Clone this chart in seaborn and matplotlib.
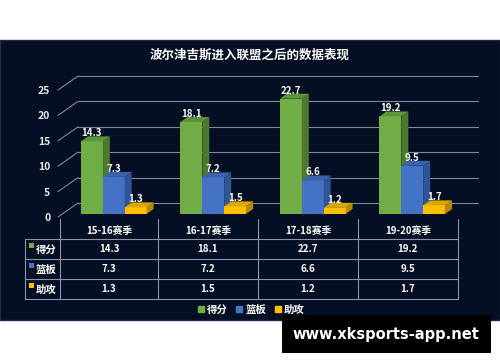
# 波尔津吉斯进入联盟之后的数据表现 - 3D style bar chart with data table underneath

import matplotlib.pyplot as plt
import matplotlib.transforms as mtrans
from matplotlib.patches import Rectangle, Polygon
from matplotlib.lines import Line2D
import pandas as pd
import seaborn as sns

seasons = ['15-16赛季', '16-17赛季', '17-18赛季', '19-20赛季']
stats = ['得分', '篮板', '助攻']
points = [14.3, 18.1, 22.7, 19.2]
rebounds = [7.3, 7.2, 6.6, 9.5]
assists = [1.3, 1.5, 1.2, 1.7]
yticks = [0, 5, 10, 15, 20, 25]

front_colors = ['#70ad47', '#4472c4', '#ffc000']
side_colors = ['#4b7a2e', '#2f5597', '#b88a00']
top_colors = ['#5e9439', '#3a63ad', '#dba500']

df = pd.DataFrame({
    'season': seasons * 3,
    'stat': [s for s in stats for _ in seasons],
    'value': points + rebounds + assists,
})

sns.set_style('dark')
plt.rcParams['font.family'] = ['Noto Sans CJK SC', 'DejaVu Sans']

W, H = 500, 362
fig = plt.figure(figsize=(5, 3.62), dpi=100, facecolor='white')

def fx(x):
    return x / W

def fy(y):
    return 1 - y / H

# dark panel
fig.add_artist(Rectangle((0, fy(320)), 1, (320 - 40) / H, transform=fig.transFigure,
                         facecolor='#050f24', edgecolor='#1c2b4a', lw=1, zorder=0))

ax = fig.add_axes([fx(60), fy(217), fx(458) - fx(60), (217 - 90) / H])
ax.set_facecolor('none')
sns.barplot(data=df, x='season', y='value', hue='stat', palette=front_colors,
            width=0.66, gap=0, legend=False, ax=ax, saturation=1)
ax.set_xlim(-0.5, 3.5)
ax.set_ylim(0, 25)
ax.set_yticks(yticks)
ax.set_xticks([])
ax.set_xlabel('')
ax.set_ylabel('')
ax.grid(False)
for s in ax.spines.values():
    s.set_visible(False)
ax.tick_params(axis='y', length=0, pad=7, labelsize=7.5, labelcolor='#e6e6e6')
for lab in ax.get_yticklabels():
    lab.set_fontweight('bold')

ident = mtrans.IdentityTransform()
px = 1 / 100  # inches per pixel

# back wall gridlines and floor diagonals (pixel offsets)
wall_dx, wall_dy = 20, 14
x_front = ax.transData.transform((-0.5, 0))[0] - 2
x_end = 478
for v in yticks:
    yd = ax.transData.transform((0, v))[1]
    ax.add_line(Line2D([x_front, x_front + wall_dx], [yd, yd + wall_dy], transform=ident,
                       color='#7d8898', lw=0.8, zorder=1, clip_on=False))
    ax.add_line(Line2D([x_front + wall_dx, x_end], [yd + wall_dy, yd + wall_dy], transform=ident,
                       color='#7d8898', lw=0.8, zorder=1, clip_on=False))

# bars: shift fronts a little back (right and up), then add side and top faces
bar_dx, bar_dy = 4, 3
dep_dx, dep_dy = 7, 5
shift = mtrans.ScaledTranslation(bar_dx * px, bar_dy * px, fig.dpi_scale_trans)
for k, cont in enumerate(ax.containers):
    for bar in cont:
        x0, w, h = bar.get_x(), bar.get_width(), bar.get_height()
        bar.set_transform(ax.transData + shift)
        bar.set_zorder(2 + k)
        bar.set_edgecolor('none')
        (lx, by), (rx, ty) = ax.transData.transform([(x0, 0), (x0 + w, h)])
        lx, rx = lx + bar_dx, rx + bar_dx
        by, ty = by + bar_dy, ty + bar_dy
        side = Polygon([(rx, by), (rx + dep_dx, by + dep_dy), (rx + dep_dx, ty + dep_dy), (rx, ty)],
                       closed=True, transform=ident, facecolor=side_colors[k], edgecolor='none',
                       zorder=2 + k, clip_on=False)
        top = Polygon([(lx, ty), (rx, ty), (rx + dep_dx, ty + dep_dy), (lx + dep_dx, ty + dep_dy)],
                      closed=True, transform=ident, facecolor=top_colors[k], edgecolor='none',
                      zorder=2 + k, clip_on=False)
        ax.add_patch(side)
        ax.add_patch(top)
        ax.annotate(f'{h:.1f}', xy=(x0 + w / 2, h), xytext=(bar_dx * 0.72, (8 + bar_dy) * 0.72),
                    textcoords='offset points', ha='center', va='center', fontsize=7,
                    fontweight='bold', color='white', zorder=10)

# data table
line_c = '#8a96a8'
cols = [60, 158, 258, 358, 458]
rows = [239, 259, 279, 299]
for y in rows:
    fig.add_artist(Line2D([fx(25), fx(458)], [fy(y), fy(y)], color=line_c, lw=0.8))
fig.add_artist(Line2D([fx(25), fx(25)], [fy(239), fy(299)], color=line_c, lw=0.8))
for x in cols:
    fig.add_artist(Line2D([fx(x), fx(x)], [fy(219), fy(299)], color=line_c, lw=0.8))

for i, season in enumerate(seasons):
    cx = (cols[i] + cols[i + 1]) / 2
    fig.text(fx(cx), fy(231), season, ha='center', va='center', fontsize=7,
             fontweight='bold', color='white')
    for j, vals in enumerate([points, rebounds, assists]):
        fig.text(fx(cx), fy(249 + 20 * j), f'{vals[i]:.1f}', ha='center', va='center',
                 fontsize=7, fontweight='bold', color='white')

for j, stat in enumerate(stats):
    fig.add_artist(Rectangle((fx(29), fy(248 + 20 * j)), 5 / W, 5 / H, transform=fig.transFigure,
                             facecolor=front_colors[j], edgecolor='none'))
    fig.text(fx(36), fy(250 + 20 * j), stat, ha='left', va='center', fontsize=7.5,
             fontweight='bold', color='white')

# legend
handles = [Line2D([], [], marker='s', linestyle='', markersize=4, color=c) for c in front_colors]
leg = fig.legend(handles, stats, loc='center', bbox_to_anchor=(fx(251), fy(310)), ncol=3,
                 frameon=False, fontsize=7.5, handlelength=0.6, handletextpad=0.3,
                 columnspacing=0.8, borderpad=0)
for t in leg.get_texts():
    t.set_color('white')
    t.set_fontweight('bold')

# title
fig.text(fx(250), fy(55), '波尔津吉斯进入联盟之后的数据表现', ha='center', va='center',
         fontsize=9, fontweight='bold', color='white')

# watermark band
fig.add_artist(Rectangle((fx(282), fy(353)), (491 - 282) / W, (353 - 315) / H,
                         transform=fig.transFigure, facecolor='black', edgecolor='none', zorder=5))
fig.text(fx(386), fy(335), 'www.xksports-app.net', ha='center', va='center', fontsize=10.5,
         fontweight='bold', color='white', family='DejaVu Sans', zorder=6)

plt.savefig('out.png', dpi=100, facecolor='white')
